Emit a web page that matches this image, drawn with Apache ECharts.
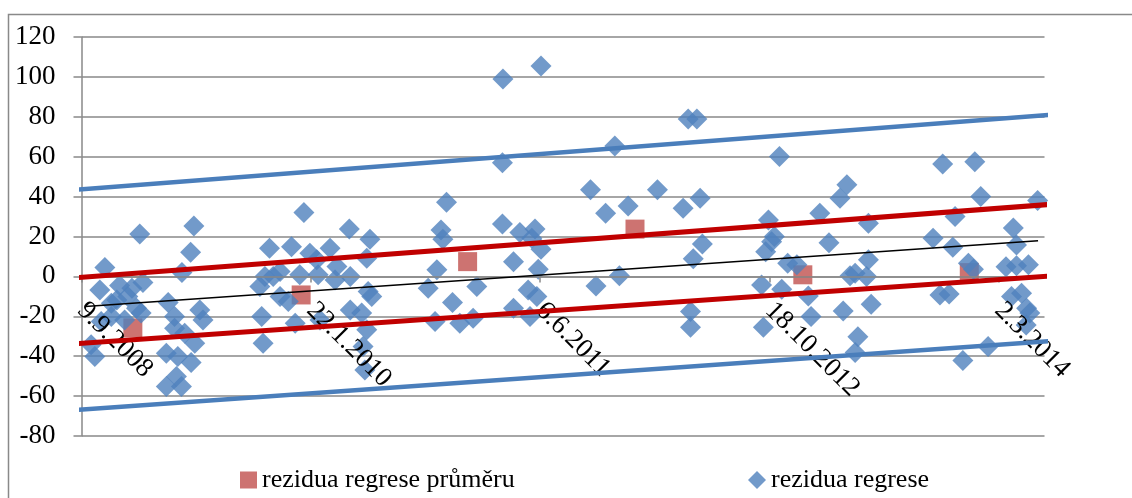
<!DOCTYPE html>
<html>
<head>
<meta charset="utf-8">
<script src="https://cdn.jsdelivr.net/npm/echarts@6/dist/echarts.min.js"></script>
<style>
html,body{margin:0;padding:0;background:#fff;}
#chart{width:1132px;height:498px;}
</style>
</head>
<body>
<div id="chart"></div>
<script>
// ---- DATA (x = Excel date serial, y = residual) ----
const seriesNames = ['rezidua regrese průměru', 'rezidua regrese'];

const meanDays   = [39812, 40179, 40542, 40907, 41273, 41636];
const meanValues = [-25.8, -9.3, 7.4, 23.7, 0.8, 1.9];

const residDays = [
  39827,39945,39938,39919,39751,39740,39783,39834,39765,39801,39820,39830,39794,39765,39743,39721,39729,
  39889,39903,39958,39965,39903,39925,39947,39885,39910,39939,39907,39885,39918,39777,39810,
  40185,40284,40329,40110,40158,40198,40242,40322,40213,40257,40133,40100,40176,40216,40286,40089,40253,
  40133,40151,40325,40333,40093,40166,40220,40286,40311,40322,40314,40096,40318,40118,
  40618,40496,40484,40488,40618,40656,40689,40682,40702,40642,40475,40696,40456,40562,40509,40674,40693,
  40642,40678,40471,40525,40554,40619,40702,
  40863,40810,40956,40843,40892,41012,41049,41054,41034,40822,40873,41028,41028,41023,41042,
  41222,41369,41354,41310,41198,41416,41211,41205,41330,41192,41240,41260,41416,41376,41387,41412,41183,
  41227,41285,41422,41291,41361,41187,41393,41387,
  41578,41648,41661,41785,41605,41557,41732,41600,41739,41634,41645,41739,41765,41572,41592,41728,41750,
  41761,41768,41760,41677,41622,41716
];
const residValues = [
  21.3,25.3,12.1,1.9,4.4,-6.8,-4.6,-3.1,-13.4,-10.1,-16.0,-18.4,-21.8,-20.1,-22.6,-34.3,-40.2,
  -13.1,-20.1,-16.8,-21.8,-26.0,-28.5,-33.5,-38.5,-40.2,-43.2,-50.2,-55.2,-55.2,-11.8,-6.0,
  32.0,23.7,18.6,14.1,14.9,11.6,14.1,9.1,8.3,4.9,2.4,-0.1,0.8,0.8,-0.1,-5.1,-1.8,
  -10.1,-12.6,-7.6,-10.1,-20.1,-23.5,-21.8,-16.8,-18.4,-26.8,-35.2,-33.5,-46.9,-0.1,
  57.0,37.2,23.3,18.6,26.3,22.0,23.7,19.1,13.6,7.4,3.3,3.6,-5.9,-5.1,-13.1,-6.8,-10.1,
  -16.0,-20.1,-22.6,-23.5,-21.0,99.0,105.5,
  65.4,43.4,43.4,31.7,35.3,34.2,39.2,16.3,8.8,-4.8,0.3,-17.6,-25.5,78.9,78.9,
  60.1,45.9,39.2,31.7,28.3,26.6,20.0,17.4,16.9,12.4,6.6,5.8,8.3,0.3,1.6,-0.1,-4.3,
  -6.4,-9.8,-13.9,-20.1,-17.3,-25.5,-30.2,-38.2,
  56.4,57.5,40.0,38.0,30.0,19.1,24.2,14.6,15.8,6.6,3.6,5.3,5.8,-9.3,-8.8,-10.1,-8.4,
  -16.0,-18.4,-24.3,-35.2,-42.2,4.8
];

// straight guide lines: [startDay, startValue, endDay, endValue]
const upperBlueLine = [39653, 42.8, 41893, 82.4];
const upperRedLine  = [39649, -1.3, 41882, 37.3];
const trendLine     = [39708, -15.1, 41786, 17.9];
const lowerRedLine  = [39649, -34.4, 41906, 1.7];
const lowerBlueLine = [39653, -67.5, 41888, -31.2];

const xTickDays = [39700, 40200, 40700, 41200, 41700];
const xMin = 39700, xMax = 41800, xStep = 500;
const yMin = -80, yMax = 120, yStep = 20;

// ---- CHART ----
const FONT = '"Liberation Serif", "Times New Roman", serif';
const GRAY = '#898989';
const GRID_TOP = 37, GRID_H = 399;
// x axis crosses the y axis at value 0
const xAxisOffset = -GRID_H * (0 - yMin) / (yMax - yMin);

function fmtDate(v){
  const d = new Date(Date.UTC(1899,11,30) + v*86400000);
  return d.getUTCDate() + '.' + (d.getUTCMonth()+1) + '.' + d.getUTCFullYear();
}
function zip(xs, ys){ return xs.map((x,i)=>[x, ys[i]]); }
function seg(a){ return [[a[0],a[1]],[a[2],a[3]]]; }
function lineSeries(a, color, width){
  return {type:'line', data:seg(a), showSymbol:false, symbol:'none', clip:false, silent:true,
    lineStyle:{color:color, width:width}, z:6, animation:false};
}

const chart = echarts.init(document.getElementById('chart'), null, {renderer:'canvas'});
chart.setOption({
  animation:false,
  backgroundColor:'#fff',
  textStyle:{fontFamily:FONT},
  graphic:[{type:'rect', shape:{x:8.5, y:14.5, width:1300, height:700},
    style:{fill:'none', stroke:GRAY, lineWidth:1.5}, silent:true, z:-1}],
  grid:{left:81.5, top:GRID_TOP, width:963, height:GRID_H, containLabel:false, outerBoundsMode:'none'},
  legend:[
    {data:[{name:seriesNames[0], icon:'rect'}], left:235, top:462, itemWidth:17, itemHeight:17,
     textStyle:{fontFamily:FONT, fontSize:26, color:'#000'}, selectedMode:false},
    {data:[{name:seriesNames[1], icon:'diamond'}], left:743, top:462, itemWidth:18, itemHeight:18,
     textStyle:{fontFamily:FONT, fontSize:26, color:'#000'}, selectedMode:false}
  ],
  xAxis:{
    type:'value', min:xMin, max:xMax, interval:xStep, z:5, position:'bottom', offset:xAxisOffset,
    splitLine:{show:false},
    axisLine:{onZero:false, lineStyle:{color:GRAY, width:1.5}},
    axisTick:{show:true, length:6, lineStyle:{color:GRAY, width:1.5}, customValues:xTickDays},
    axisLabel:{rotate:-45, margin:30, fontSize:27, color:'#000', fontFamily:FONT,
      customValues:xTickDays, formatter:fmtDate, hideOverlap:false}
  },
  yAxis:{
    type:'value', min:yMin, max:yMax, interval:yStep,
    splitLine:{show:true, lineStyle:{color:GRAY, width:1.5}},
    axisLine:{show:true, onZero:false, lineStyle:{color:GRAY, width:1.5}},
    axisTick:{show:true, length:8, lineStyle:{color:GRAY, width:1.5}},
    axisLabel:{fontSize:27, color:'#000', fontFamily:FONT, margin:26}
  },
  series:[
    {name:seriesNames[0], type:'scatter', symbol:'rect', symbolSize:19,
     itemStyle:{color:'#C0504D'}, data:zip(meanDays, meanValues), z:2},
    {name:seriesNames[1], type:'scatter', symbol:'diamond', symbolSize:21,
     itemStyle:{color:'#4F81BD'}, data:zip(residDays, residValues), z:3},
    lineSeries(upperBlueLine, '#4A7EBB', 4.5),
    lineSeries(lowerBlueLine, '#4A7EBB', 4.5),
    lineSeries(upperRedLine, '#C00000', 5),
    lineSeries(lowerRedLine, '#C00000', 5),
    lineSeries(trendLine, '#000000', 1.5)
  ]
});
</script>
</body>
</html>
